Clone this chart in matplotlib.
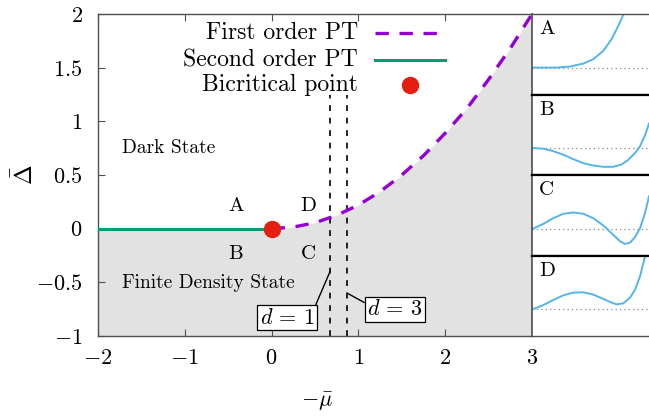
import matplotlib
matplotlib.use('Agg')
import matplotlib.pyplot as plt
from matplotlib.ticker import FuncFormatter

plt.rcParams['font.family'] = 'serif'
plt.rcParams['font.serif'] = ['cmr10']
plt.rcParams['mathtext.fontset'] = 'cm'
plt.rcParams['axes.formatter.use_mathtext'] = True

# Phase diagram data
mu_second = [-2.0, 0.0]
delta_second = [0.0, 0.0]
mu_first = [0.0, 0.25, 0.5, 0.75, 1.0, 1.25, 1.5, 1.75, 2.0, 2.25, 2.5, 2.75, 3.0]
delta_first = [0.0, 0.015, 0.055, 0.125, 0.22, 0.345, 0.5, 0.68, 0.89, 1.12, 1.39, 1.68, 2.0]
bicritical = (0.0, 0.0)
d_lines = [0.67, 0.87]
d_labels = [r'$d\,=\,1$', r'$d\,=\,3$']
xticks = [-2, -1, 0, 1, 2, 3]
yticks = [-1, -0.5, 0, 0.5, 1, 1.5, 2]

# Free-energy sketches for panels A-D (phi, F)
panel_names = ['A', 'B', 'C', 'D']
phi_A = [0.0, 0.211, 0.325, 0.439, 0.524, 0.61, 0.681, 0.738, 0.781]
F_A = [0.0, 0.0, 0.0125, 0.05, 0.104, 0.208, 0.354, 0.52, 0.658]
phi_B = [0.011, 0.097, 0.182, 0.268, 0.353, 0.439, 0.524, 0.61, 0.695, 0.766,
         0.823, 0.88, 0.923, 0.966, 1.0]
F_B = [0.0, -0.008, -0.038, -0.083, -0.138, -0.188, -0.217, -0.233, -0.233, -0.204,
       -0.146, -0.0625, 0.021, 0.158, 0.304]
phi_C = [0.011, 0.097, 0.182, 0.268, 0.353, 0.439, 0.524, 0.61, 0.695, 0.752,
         0.795, 0.838, 0.88, 0.923, 0.966, 1.0]
F_C = [0.0, 0.058, 0.129, 0.183, 0.2, 0.183, 0.129, 0.0375, -0.079, -0.158,
       -0.192, -0.175, -0.108, 0.004, 0.192, 0.4]
phi_D = [0.011, 0.097, 0.182, 0.268, 0.353, 0.439, 0.524, 0.61, 0.681, 0.724,
         0.781, 0.838, 0.88, 0.923, 0.966]
F_D = [0.0, 0.05, 0.1125, 0.171, 0.204, 0.208, 0.179, 0.125, 0.079, 0.058,
       0.071, 0.142, 0.2375, 0.404, 0.654]
panel_phi = [phi_A, phi_B, phi_C, phi_D]
panel_F = [F_A, F_B, F_C, F_D]

purple = '#9400d3'
green = '#009e73'
red = '#e51e10'
blue = '#56b4e9'
frame = '#505050'

fig = plt.figure(figsize=(6.49, 4.16), dpi=100)
ax = fig.add_axes([0.151, 0.1923, 0.6687, 0.774])

# shaded finite density region
ax.fill_between([-2.0] + mu_first, [0.0] + delta_first, -1, color='#e2e2e2', lw=0, zorder=0)

ax.plot(mu_first, delta_first, color=purple, lw=2.4, dashes=(4, 3.2), zorder=3)
ax.plot(mu_second, delta_second, color=green, lw=2.2, zorder=3)
ax.plot(*bicritical, 'o', color=red, ms=11.5, zorder=4)

for xv in d_lines:
    ax.plot([xv, xv], [-1, 1.25], color='black', lw=1.2, dashes=(3.5, 4), zorder=2)

ax.annotate(d_labels[0], xy=(0.673, -0.40), xytext=(0.18, -0.83), fontsize=16,
            ha='center', va='center',
            bbox=dict(boxstyle='square,pad=0.12', fc='white', ec='black', lw=0.9),
            arrowprops=dict(arrowstyle='-', lw=1.0, color='black', relpos=(1, 1),
                            shrinkA=0, shrinkB=0))
ax.annotate(d_labels[1], xy=(0.87, -0.60), xytext=(1.42, -0.75), fontsize=16,
            ha='center', va='center',
            bbox=dict(boxstyle='square,pad=0.12', fc='white', ec='black', lw=0.9),
            arrowprops=dict(arrowstyle='-', lw=1.0, color='black', relpos=(0, 0.75),
                            shrinkA=0, shrinkB=0))

ax.text(-0.41, 0.21, 'A', fontsize=15, ha='center', va='center')
ax.text(-0.41, -0.235, 'B', fontsize=15, ha='center', va='center')
ax.text(0.42, -0.235, 'C', fontsize=15, ha='center', va='center')
ax.text(0.42, 0.21, 'D', fontsize=15, ha='center', va='center')
ax.text(-1.72, 0.75, 'Dark State', fontsize=14, ha='left', va='center')
ax.text(-1.72, -0.51, 'Finite Density State', fontsize=14, ha='left', va='center')

# gnuplot style key
tr = ax.transAxes
key_y = [0.941, 0.857, 0.78]
ax.text(0.599, key_y[0], 'First order PT', transform=tr, fontsize=17, ha='right', va='center')
ax.text(0.599, key_y[1], 'Second order PT', transform=tr, fontsize=17, ha='right', va='center')
ax.text(0.599, key_y[2], 'Bicritical point', transform=tr, fontsize=17, ha='right', va='center')
ax.plot([0.638, 0.80], [key_y[0]] * 2, transform=tr, color=purple, lw=2.4, dashes=(4, 3.2))
ax.plot([0.638, 0.80], [key_y[1]] * 2, transform=tr, color=green, lw=2.2)
ax.plot([0.719], [key_y[2]], 'o', transform=tr, color=red, ms=11.5)

ax.set_xlim(-2, 3)
ax.set_ylim(-1, 2)
ax.set_xticks(xticks)
ax.set_yticks(yticks)
ax.yaxis.set_major_formatter(FuncFormatter(lambda v, p: f'${v:g}$'))
ax.xaxis.set_major_formatter(FuncFormatter(lambda v, p: f'${v:g}$'))
ax.tick_params(direction='in', length=5, width=0.8, color=frame, labelsize=16, top=True)
ax.tick_params(axis='x', pad=9)
ax.tick_params(axis='y', pad=11)
for s in ax.spines.values():
    s.set_color(frame)
    s.set_linewidth(1.0)
ax.set_xlabel(r'$-\bar{\mu}$', fontsize=16)
ax.xaxis.set_label_coords(0.505, -0.168)
ax.set_ylabel(r'$\bar{\Delta}$', fontsize=17)
ax.yaxis.set_label_coords(-0.138, 0.5)

# free-energy insets
h = 0.774 / 4
for i, name in enumerate(panel_names):
    pax = fig.add_axes([0.8197, 0.1923 + (3 - i) * h, 0.1803, h])
    pax.axhline(0, color='#888888', lw=0.9, ls=(0, (1, 2.5)))
    pax.plot(panel_phi[i], panel_F[i], color=blue, lw=1.4)
    pax.set_xlim(0, 1)
    pax.set_ylim(-0.335, 0.665)
    pax.set_xticks([])
    pax.set_yticks([])
    pax.text(0.06, 0.92, name, transform=pax.transAxes, fontsize=15, ha='left', va='top')
    for side, s in pax.spines.items():
        s.set_color('black')
        s.set_linewidth(1.6)
    pax.spines['left'].set_color(frame)
    pax.spines['left'].set_linewidth(1.2)
    if i == 0:
        pax.spines['top'].set_color(frame)
        pax.spines['top'].set_linewidth(1.0)
    if i == 3:
        pax.spines['bottom'].set_color(frame)
        pax.spines['bottom'].set_linewidth(1.0)
    pax.spines['right'].set_visible(False)

fig.savefig('out.png', dpi=100)
